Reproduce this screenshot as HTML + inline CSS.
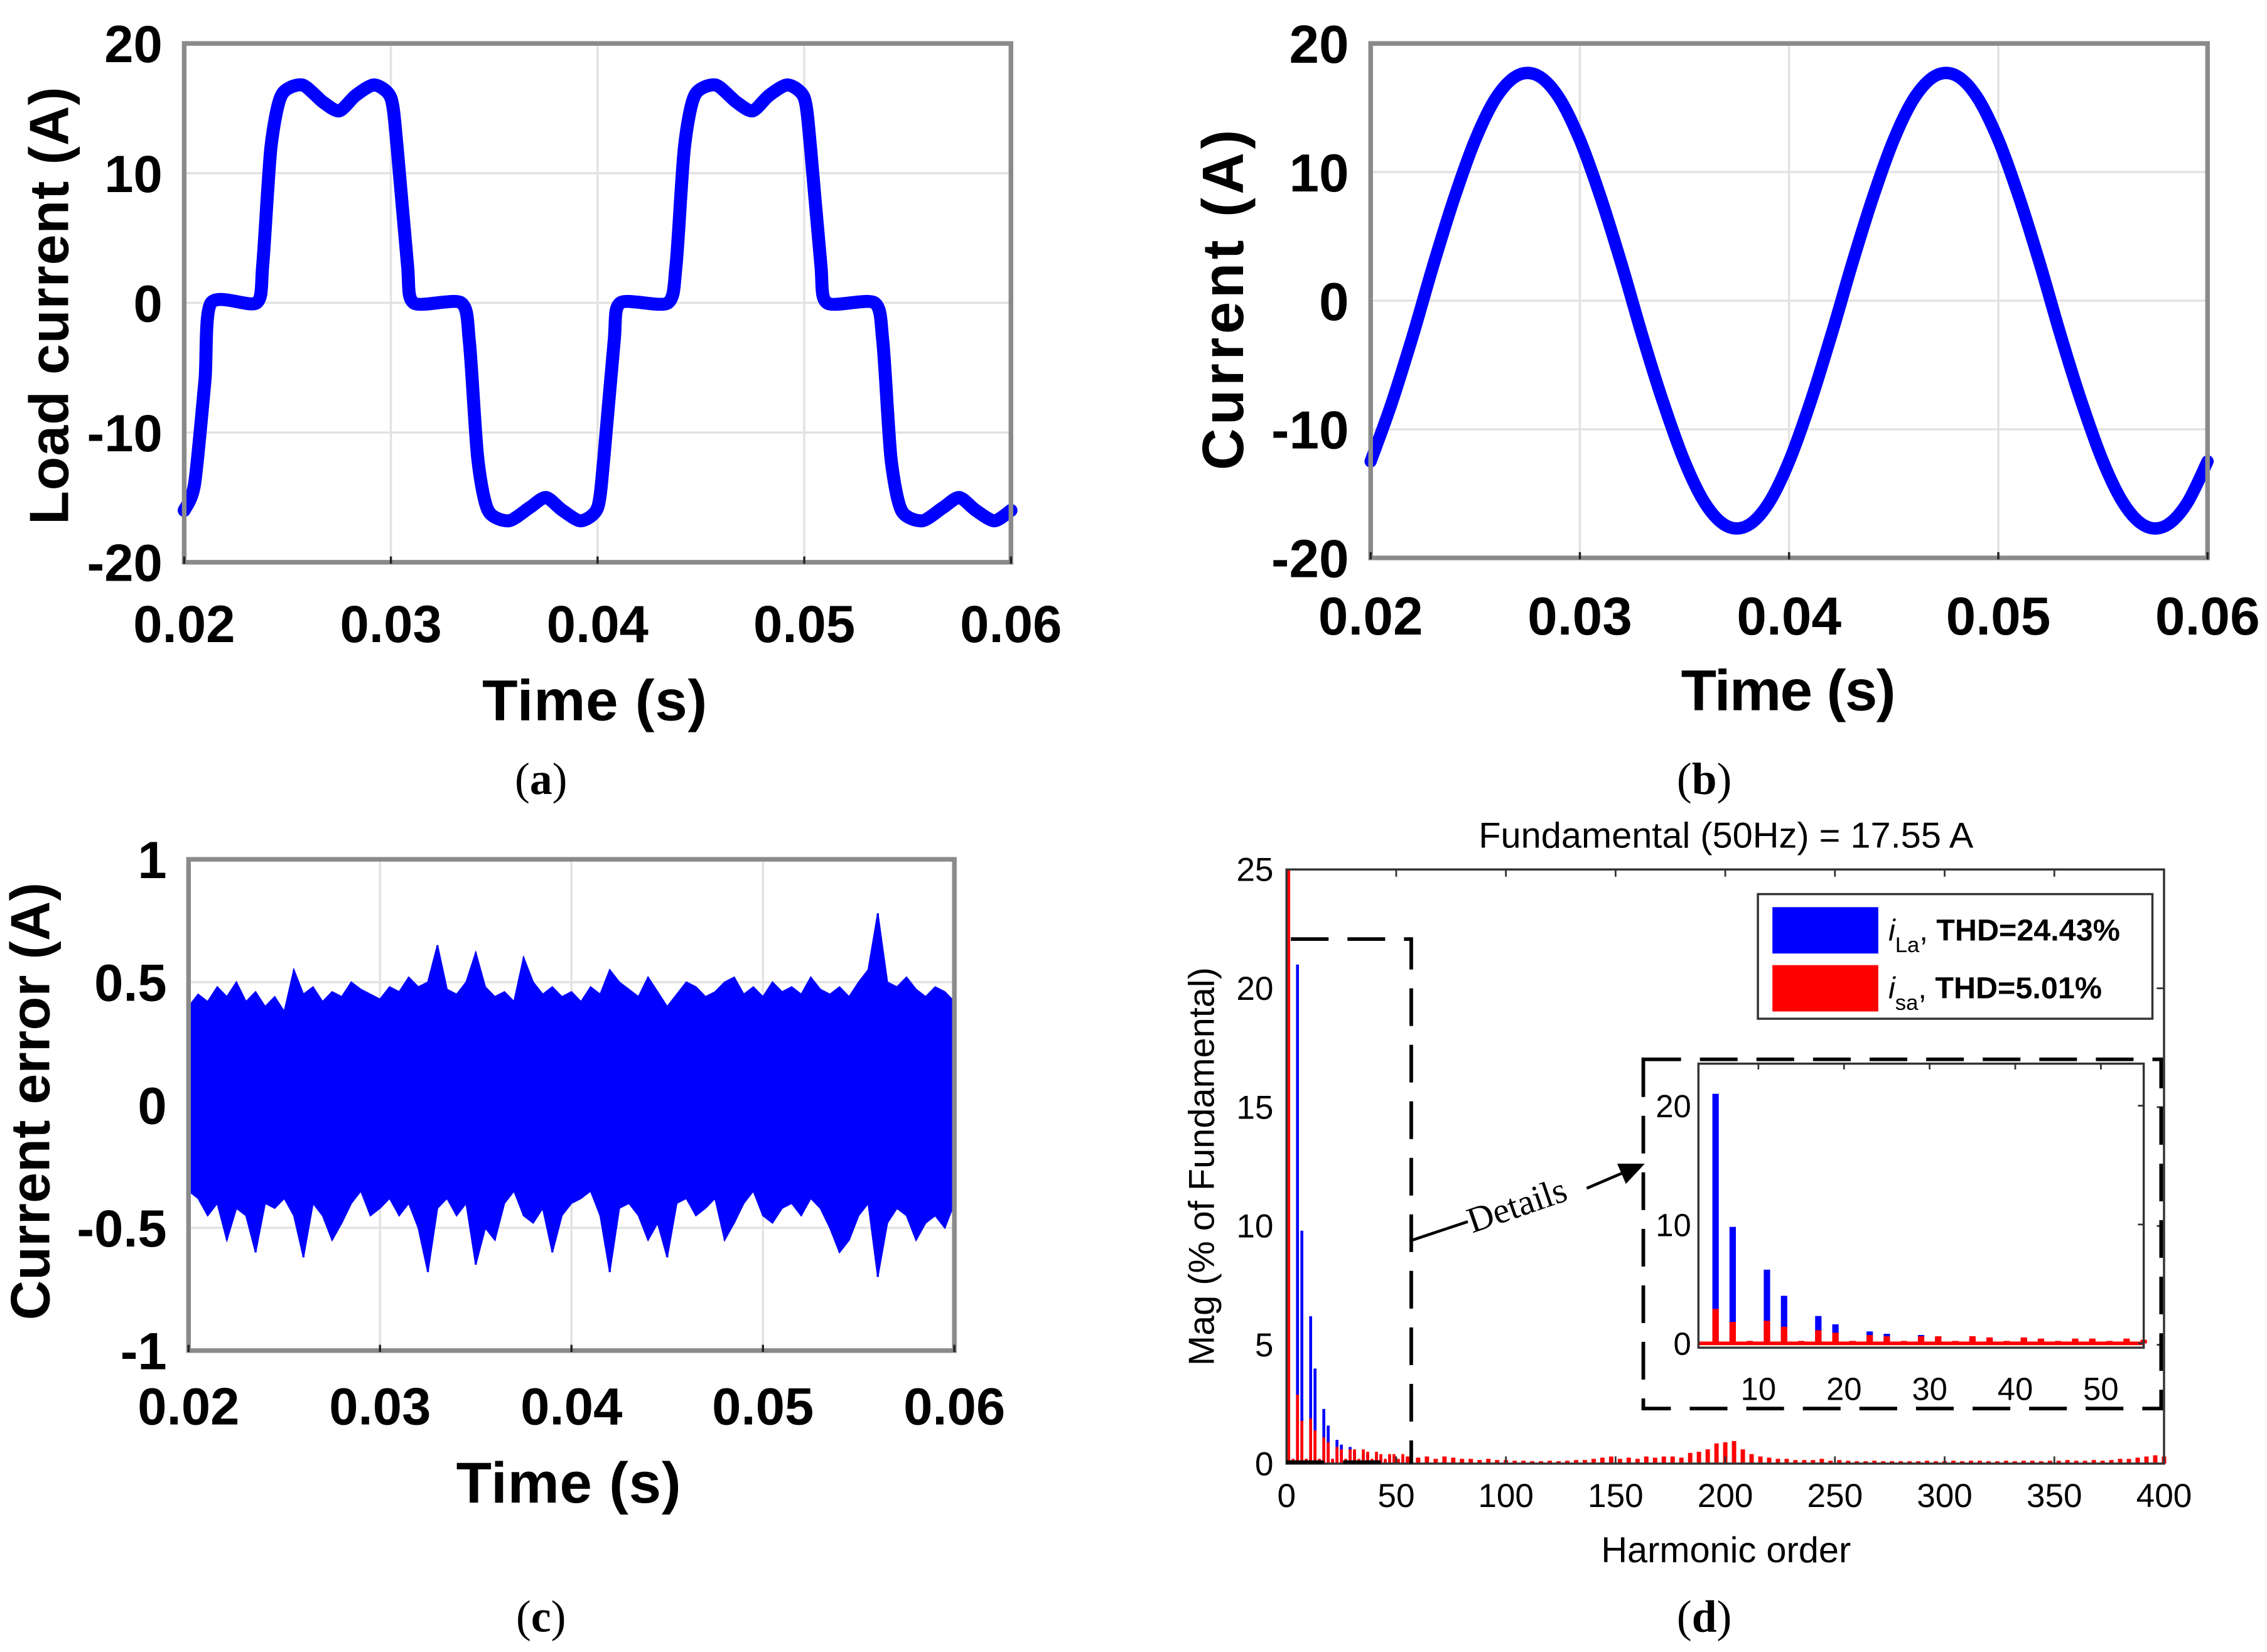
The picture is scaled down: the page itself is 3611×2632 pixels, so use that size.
<!DOCTYPE html>
<html><head><meta charset="utf-8"><style>
html,body{margin:0;padding:0;background:#fff}
svg{display:block}
.tb{font-family:"Liberation Sans",sans-serif;font-weight:bold;fill:#000}
.tr{font-family:"Liberation Sans",sans-serif;fill:#000}
.cap{font-family:"Liberation Serif",serif;fill:#000}
</style></head><body>
<svg id="fig" xmlns="http://www.w3.org/2000/svg" width="3611" height="2632" viewBox="0 0 1563 1140" preserveAspectRatio="none">
<rect x="0" y="0" width="1563" height="1140" fill="#fff"/>
<g id="ga"></g>
<g id="gb"></g>
<g id="gc"></g>
<g id="gd"></g>

<text class="tb" x="410" y="497" font-size="40" text-anchor="middle" textLength="155">Time (s)</text>
<text class="tb" transform="translate(47,211) rotate(-90)" font-size="38" text-anchor="middle" textLength="302">Load current (A)</text>
<text class="cap" x="373" y="548" font-size="31" text-anchor="middle">(<tspan font-weight="bold">a</tspan>)</text>

<text class="tb" x="1233" y="490" font-size="40" text-anchor="middle" textLength="148">Time (s)</text>
<text class="tb" transform="translate(857,207) rotate(-90)" font-size="40" text-anchor="middle" textLength="235">Current (A)</text>
<text class="cap" x="1175" y="548" font-size="31" text-anchor="middle">(<tspan font-weight="bold">b</tspan>)</text>

<text class="tb" x="392" y="1037" font-size="40" text-anchor="middle" textLength="155">Time (s)</text>
<text class="tb" transform="translate(34,760) rotate(-90)" font-size="38" text-anchor="middle" textLength="302">Current error (A)</text>
<text class="cap" x="373" y="1126" font-size="31" text-anchor="middle">(<tspan font-weight="bold">c</tspan>)</text>

<text class="tr" x="1190" y="585" font-size="25" text-anchor="middle">Fundamental (50Hz) = 17.55 A</text>
<text class="tr" x="1190" y="1078" font-size="25" text-anchor="middle">Harmonic order</text>
<text class="tr" transform="translate(837,805) rotate(-90)" font-size="25" text-anchor="middle">Mag (% of Fundamental)</text>
<text class="cap" x="1175" y="1126" font-size="31" text-anchor="middle">(<tspan font-weight="bold">d</tspan>)</text>
</svg>

<script>
const loadT = [0.0200,0.0205,0.0210,0.0213,0.0235,0.0238,0.0242,0.0247,0.0257,0.0267,0.0275,0.0283,0.0292,0.0300,0.0303,0.0308,0.0311,0.0334,0.0338,0.0342,0.0347,0.0357,0.0367,0.0375,0.0383,0.0392,0.0400,0.0403,0.0408,0.0411,0.0434,0.0438,0.0442,0.0447,0.0457,0.0467,0.0475,0.0483,0.0492,0.0500,0.0503,0.0508,0.0511,0.0534,0.0538,0.0542,0.0547,0.0557,0.0567,0.0575,0.0583,0.0592,0.0600];
const loadI = [-16,-14,-6,0,0,3,12,16,16.8,15.5,14.8,16,16.8,15.8,12,3,0,0,-3,-12,-16,-16.8,-15.8,-15,-16,-16.8,-15.8,-12,-3,0,0,3,12,16,16.8,15.5,14.8,16,16.8,15.8,12,3,0,0,-3,-12,-16,-16.8,-15.8,-15,-16,-16.8,-16];
const srcStart = 0.020, srcStep = 0.001;
const srcI = [-12.5,-8.0,-2.8,2.8,8.0,12.5,15.8,17.5,17.5,15.8,12.5,8.0,2.8,-2.8,-8.0,-12.5,-15.8,-17.5,-17.5,-15.8,
              -12.5,-8.0,-2.8,2.8,8.0,12.5,15.8,17.5,17.5,15.8,12.5,8.0,2.8,-2.8,-8.0,-12.5,-15.8,-17.5,-17.5,-15.8,-12.5];
const errStart = 0.020, errStep = 0.0005;
const errUpper = [0.40,0.45,0.42,0.48,0.44,0.50,0.42,0.46,0.40,0.44,0.38,0.55,0.45,0.48,0.42,0.46,0.44,0.50,0.47,0.45,
                  0.43,0.48,0.46,0.52,0.48,0.50,0.65,0.47,0.45,0.50,0.62,0.48,0.44,0.46,0.42,0.60,0.50,0.45,0.48,0.44,
                  0.46,0.42,0.48,0.45,0.55,0.50,0.47,0.44,0.52,0.46,0.40,0.45,0.50,0.48,0.44,0.46,0.50,0.52,0.45,0.48,
                  0.44,0.50,0.46,0.48,0.45,0.52,0.47,0.45,0.48,0.44,0.50,0.55,0.78,0.50,0.48,0.52,0.47,0.44,0.48,0.46,0.42];
const errLower = [-0.35,-0.38,-0.45,-0.40,-0.55,-0.42,-0.45,-0.60,-0.40,-0.42,-0.38,-0.45,-0.62,-0.40,-0.45,-0.55,-0.48,-0.40,-0.35,-0.45,
                  -0.42,-0.38,-0.45,-0.40,-0.50,-0.68,-0.42,-0.38,-0.45,-0.40,-0.65,-0.50,-0.55,-0.40,-0.35,-0.45,-0.48,-0.42,-0.60,-0.45,
                  -0.40,-0.38,-0.35,-0.45,-0.68,-0.42,-0.40,-0.45,-0.55,-0.48,-0.62,-0.40,-0.38,-0.45,-0.42,-0.38,-0.55,-0.48,-0.40,-0.35,
                  -0.45,-0.48,-0.42,-0.40,-0.45,-0.38,-0.42,-0.50,-0.60,-0.55,-0.45,-0.40,-0.70,-0.48,-0.42,-0.45,-0.55,-0.48,-0.45,-0.50,-0.40];
const harmOrders = [1,3,5,7,9,11,13,15,17,19,21,23,25,27,29,31,33,35,37,39,41,43,45,47,49,51,53,55];
const iLaMag = [100,0.2,21,9.8,0.2,6.2,4.0,0.2,2.3,1.6,0.2,1.0,0.8,0.1,0.7,0.5,0.1,0.4,0.4,0.1,0.3,0.3,0.1,0.3,0.3,0.1,0.2,0.2];
const isaMag = [100,0.2,2.9,1.8,0.2,1.9,1.4,0.2,1.1,0.9,0.2,0.7,0.6,0.2,0.6,0.6,0.2,0.6,0.5,0.2,0.5,0.4,0.2,0.4,0.4,0.2,0.4,0.3];
const hfStart = 56, hfStep = 4;
const isaHigh = [.3,.25,.3,.2,.3,.25,.2,.2,.15,.2,.15,.15,.12,.12,.1,.1,.12,.1,.12,.15,.15,.2,.25,.3,.2,.25,.2,.3,.25,.3,.3,.25,.45,.5,.6,.85,.9,.95,.6,.4,.3,.25,.2,.2,.15,.15,.15,.2,.12,.15,.12,.1,.1,.12,.1,.1,.1,.1,.1,.12,.1,.1,.12,.1,.12,.12,.1,.1,.12,.1,.12,.12,.1,.12,.12,.15,.12,.12,.15,.12,.15,.2,.2,.25,.3,.35,.3];
const timeTicks = [0.02,0.03,0.04,0.05,0.06];
const timeTickLabels = ["0.02","0.03","0.04","0.05","0.06"];
const curTicks = [20,10,0,-10,-20];
const errTicks = [1,0.5,0,-0.5,-1];
const errTickLabels = ["1","0.5","0","-0.5","-1"];
const harmTicks = [0,50,100,150,200,250,300,350,400];
const magTicks = [0,5,10,15,20,25];
const insetXTicks = [10,20,30,40,50];
const insetYTicks = [0,10,20];

const NS = "http://www.w3.org/2000/svg";
function mk(tag, attrs, parent, txt){
  const e = document.createElementNS(NS, tag);
  for (const k in attrs) e.setAttribute(k, attrs[k]);
  if (txt !== undefined) e.textContent = txt;
  parent.appendChild(e);
  return e;
}
function lin(d0,d1,r0,r1){ return v => r0 + (v-d0)/(d1-d0)*(r1-r0); }
function spline(P, k){
  let d = 'M'+P[0][0].toFixed(1)+','+P[0][1].toFixed(1);
  for (let i=0;i<P.length-1;i++){
    const p0=P[Math.max(0,i-1)],p1=P[i],p2=P[i+1],p3=P[Math.min(P.length-1,i+2)];
    d += ' C'+(p1[0]+(p2[0]-p0[0])/k).toFixed(1)+','+(p1[1]+(p2[1]-p0[1])/k).toFixed(1)+' '+
         (p2[0]-(p3[0]-p1[0])/k).toFixed(1)+','+(p2[1]-(p3[1]-p1[1])/k).toFixed(1)+' '+p2[0].toFixed(1)+','+p2[1].toFixed(1);
  }
  return d;
}

function timePanel(g, box, yDom, yTicks, yLabels, tickFS, xLabY, yLabX){
  const x = lin(0.02,0.06,box.l,box.r), y = lin(yDom[0],yDom[1],box.b,box.t);
  let el;
  el = mk('rect',{x:box.l,y:box.t,width:box.r-box.l,height:box.b-box.t,fill:'#fff'},g);
  
  
  timeTicks.forEach((t,i)=>{
    el = mk('line',{x1:x(t),x2:x(t),y1:box.t,y2:box.b,stroke:'#e2e2e2','stroke-width':1.5},g);
    
    
    el = mk('text',{x:x(t),y:xLabY,'font-size':tickFS,'text-anchor':'middle',class:'tb',textLength:tickFS*1.95},g,timeTickLabels[i]);
    
    
  });
  yTicks.forEach((v,i)=>{
    el = mk('line',{x1:box.l,x2:box.r,y1:y(v),y2:y(v),stroke:'#e2e2e2','stroke-width':1.5},g);
    
    
    el = mk('text',{x:yLabX,y:y(v)+tickFS*0.36,'font-size':tickFS,'text-anchor':'end',class:'tb'},g,yLabels[i]);
    
    
  });
  return {x,y};
}
function frame(g, box){
  let el = mk('rect',{x:box.l,y:box.t,width:box.r-box.l,height:box.b-box.t,fill:'none',stroke:'#8a8a8a','stroke-width':3.2},g);
  
  
  const x = lin(0.02,0.06,box.l,box.r);
  timeTicks.forEach(t=>{
    el = mk('line',{x1:x(t),x2:x(t),y1:box.b-4,y2:box.b+1,stroke:'#222','stroke-width':1.5},g);
    
    
  });
}

{
  const g = document.getElementById('ga');
  const box = {l:127,r:697,t:30,b:388};
  const s = timePanel(g, box, [-20,20], curTicks, curTicks.map(String), 36, 443, 112);
  const P = loadT.map((t,i)=>[s.x(t), s.y(loadI[i])]);
  const el = mk('path',{d:spline(P,8),fill:'none',stroke:'#0000ff','stroke-width':9,'stroke-linejoin':'round','stroke-linecap':'round'},g);
  
  
  frame(g, box);
}
{
  const g = document.getElementById('gb');
  const box = {l:945,r:1522,t:30,b:385};
  const s = timePanel(g, box, [-20,20], curTicks, curTicks.map(String), 37, 438, 930);
  const P = srcI.map((v,i)=>[s.x(srcStart+i*srcStep), s.y(v)]);
  const el = mk('path',{d:spline(P,6),fill:'none',stroke:'#0000ff','stroke-width':8.5,'stroke-linecap':'round'},g);
  
  
  frame(g, box);
}
{
  const g = document.getElementById('gc');
  const box = {l:130,r:658,t:593,b:932};
  const s = timePanel(g, box, [-1,1], errTicks, errTickLabels, 36, 983, 115);
  const up = errUpper.map((v,i)=>s.x(errStart+i*errStep).toFixed(1)+','+s.y(v).toFixed(1));
  const lo = errLower.map((v,i)=>s.x(errStart+i*errStep).toFixed(1)+','+s.y(v).toFixed(1)).reverse();
  let el = mk('polygon',{points:up.concat(lo).join(' '),fill:'#0000ff',stroke:'#0000ff','stroke-width':1},g);
  
  
  errUpper.forEach((v,i)=>{
    const xx = s.x(errStart+i*errStep);
    el = mk('line',{x1:xx,x2:xx,y1:s.y(v),y2:s.y(errLower[i]),stroke:'#0000ff','stroke-width':1.5},g);
    
    
  });
  frame(g, box);
}
{
  const g = document.getElementById('gd');
  const box = {l:887,r:1492,t:600,b:1010};
  const x = lin(0,400,box.l,box.r), y = lin(0,25,box.b,box.t);
  const yc = v => y(Math.min(v,25));
  let el;
  harmOrders.forEach((h,i)=>{
    el = mk('rect',{x:x(h)-1,y:yc(iLaMag[i]),width:2,height:box.b-yc(iLaMag[i]),fill:'#0000ff'},g);
    
    
  });
  harmOrders.forEach((h,i)=>{
    el = mk('rect',{x:x(h)-1,y:yc(isaMag[i]),width:2,height:box.b-yc(isaMag[i]),fill:'#ff0000'},g);
    
    
  });
  isaHigh.forEach((v,i)=>{
    const h = hfStart+i*hfStep;
    el = mk('rect',{x:x(h)-1.5,y:y(v),width:3,height:box.b-y(v),fill:'#ff0000'},g);
    
    
  });
  el = mk('rect',{x:box.l,y:box.t,width:box.r-box.l,height:box.b-box.t,fill:'none',stroke:'#333','stroke-width':1.5},g);
  
  
  harmTicks.forEach(h=>{
    el = mk('line',{x1:x(h),x2:x(h),y1:box.b,y2:box.b-5,stroke:'#333','stroke-width':1.2},g);
    
    
    el = mk('line',{x1:x(h),x2:x(h),y1:box.t,y2:box.t+5,stroke:'#333','stroke-width':1.2},g);
    
    
    el = mk('text',{x:x(h),y:1040,'font-size':23,'text-anchor':'middle',class:'tr'},g,String(h));
    
    
  });
  magTicks.forEach(v=>{
    el = mk('line',{x1:box.r,x2:box.r-5,y1:y(v),y2:y(v),stroke:'#333','stroke-width':1.2},g);
    
    
    el = mk('text',{x:878,y:y(v)+8,'font-size':23,'text-anchor':'end',class:'tr'},g,String(v));
    
    
  });
  el = mk('polyline',{points:'890,648 973,648 973,1010',fill:'none',stroke:'#000','stroke-width':2.5,'stroke-dasharray':'26 13'},g);
  
  
  el = mk('line',{x1:887,x2:960,y1:1009,y2:1009,stroke:'#000','stroke-width':2.5,'stroke-dasharray':'26 13'},g);
  
  
  el = mk('line',{x1:973,y1:856,x2:1012,y2:843,stroke:'#000','stroke-width':2},g);
  
  
  el = mk('text',{transform:'translate(1015,851) rotate(-19)','font-size':25,class:'cap'},g,'Details');
  
  
  el = mk('line',{x1:1094,y1:820,x2:1122,y2:808,stroke:'#000','stroke-width':2},g);
  
  
  el = mk('polygon',{points:'1134,803 1115,803 1121,817',fill:'#000'},g);
  
  
  el = mk('rect',{x:1133,y:731,width:357,height:241,fill:'none',stroke:'#000','stroke-width':2.5,'stroke-dasharray':'26 13'},g);
  
  
  const ib = {l:1171,r:1478,t:734,b:930};
  const ix = lin(3,55,ib.l,ib.r), iy = lin(0,10,927,845);
  el = mk('rect',{x:ib.l,y:ib.t,width:ib.r-ib.l,height:ib.b-ib.t,fill:'#fff'},g);
  
  
  harmOrders.forEach((h,i)=>{
    if (h<5) return;
    el = mk('rect',{x:ix(h)-2.2,y:iy(iLaMag[i]),width:4.4,height:927-iy(iLaMag[i]),fill:'#0000ff'},g);
    
    
  });
  harmOrders.forEach((h,i)=>{
    if (h<5) return;
    el = mk('rect',{x:ix(h)-2.2,y:iy(isaMag[i]),width:4.4,height:927-iy(isaMag[i]),fill:'#ff0000'},g);
    
    
  });
  el = mk('line',{x1:ib.l,x2:ib.r,y1:927,y2:927,stroke:'#ff0000','stroke-width':2.5},g);
  
  
  el = mk('rect',{x:ib.l,y:ib.t,width:ib.r-ib.l,height:ib.b-ib.t,fill:'none',stroke:'#333','stroke-width':1.5},g);
  
  
  insetXTicks.forEach(h=>{
    el = mk('line',{x1:ix(h),x2:ix(h),y1:ib.t,y2:ib.t+4,stroke:'#333','stroke-width':1.2},g);
    
    
    el = mk('text',{x:ix(h),y:966,'font-size':22,'text-anchor':'middle',class:'tr'},g,String(h));
    
    
  });
  insetYTicks.forEach(v=>{
    el = mk('line',{x1:ib.r,x2:ib.r-4,y1:iy(v),y2:iy(v),stroke:'#333','stroke-width':1.2},g);
    
    
    el = mk('text',{x:1166,y:iy(v)+8,'font-size':22,'text-anchor':'end',class:'tr'},g,String(v));
    
    
  });
  const lg = mk('g',{},g);
  
  
  el = mk('rect',{x:1212,y:617,width:272,height:86,fill:'#fff',stroke:'#333','stroke-width':1.5},lg);
  
  
  el = mk('rect',{x:1222,y:626,width:73,height:32,fill:'#0000ff'},lg);
  
  
  el = mk('rect',{x:1222,y:666,width:73,height:32,fill:'#ff0000'},lg);
  
  
  el = mk('text',{x:1302,y:649,'font-size':21,class:'tr'},lg);
  el.innerHTML = '<tspan font-style="italic">i</tspan><tspan font-size="15" dy="8">La</tspan><tspan dy="-8">, </tspan><tspan font-weight="bold">THD=24.43%</tspan>';
  
  
  el = mk('text',{x:1302,y:689,'font-size':21,class:'tr'},lg);
  el.innerHTML = '<tspan font-style="italic">i</tspan><tspan font-size="15" dy="8">sa</tspan><tspan dy="-8">, </tspan><tspan font-weight="bold">THD=5.01%</tspan>';
  
  
}
</script>
</body></html>
